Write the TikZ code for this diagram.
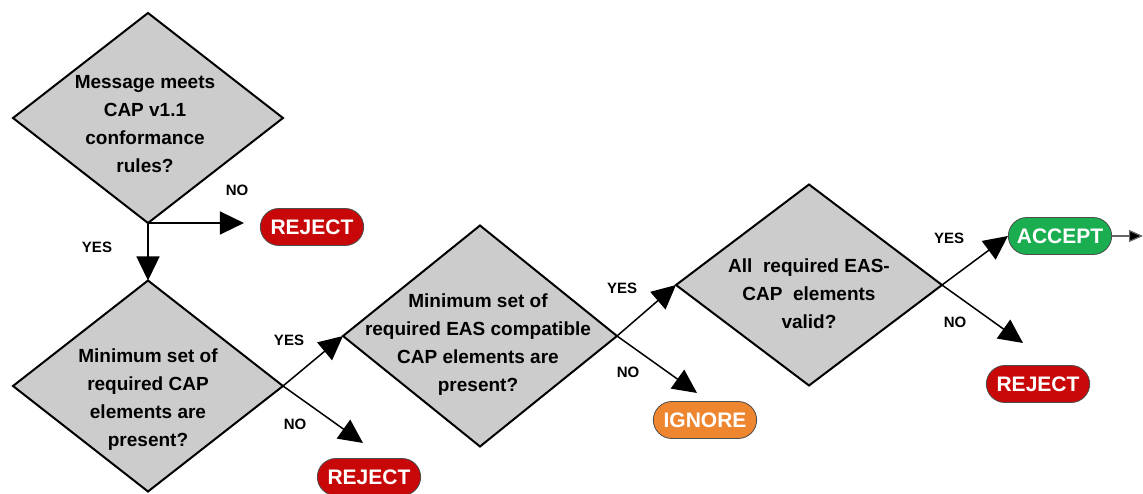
\documentclass[tikz,border=0pt]{standalone}
\usepackage{fontspec}
\setmainfont{Liberation Sans}
\usetikzlibrary{shapes.geometric,shapes.misc,arrows.meta,positioning}

\definecolor{boxgray}{RGB}{204,204,204}
\definecolor{rejred}{RGB}{200,8,8}
\definecolor{ignorange}{RGB}{238,134,48}
\definecolor{accgreen}{RGB}{26,174,80}

\begin{document}
\begin{tikzpicture}[x=1pt, y=-1pt,
  decision/.style={diamond, draw, line width=2pt, fill=boxgray, inner sep=0pt, outer sep=0pt},
  question/.style={align=center, font=\fontsize{19}{28}\selectfont\bfseries},
  result/.style={rounded rectangle, draw=black!70, line width=0.8pt, minimum width=110pt, minimum height=37pt, text=white, font=\fontsize{21}{24}\selectfont\bfseries},
  tag/.style={font=\fontsize{15}{16}\selectfont\bfseries},
  line/.style={-{Triangle[length=24pt,width=23pt]}, line width=1.5pt}
]
\useasboundingbox (0,0) rectangle (1143,494);

% Decisions
\node[decision, minimum width=270pt, minimum height=210pt] (conf) at (148,118) {};
\node[decision, minimum width=270pt, minimum height=211pt] (capmin) at (148,386) {};
\node[decision, minimum width=274pt, minimum height=221pt] (easmin) at (480,336) {};
\node[decision, minimum width=266pt, minimum height=201pt] (valid) at (809,285) {};

\node[question] (confq) at (145,124) {Message meets\\CAP v1.1\\conformance\\rules?};
\node[question] (capminq) at (148,400) {Minimum set of\\required CAP\\elements are\\present?};
\node[question] (easminq) at (478,345) {Minimum set of\\required EAS compatible\\CAP elements are\\present?};
\node[question] (validq) at (809,294) {All\ \ required EAS-\\CAP\ \ elements\\valid?};

% Results
\node[result, fill=rejred] (rej1) at (312,227) {REJECT};
\node[result, fill=rejred] (rej2) at (369,477) {REJECT};
\node[result, fill=ignorange] (ign) at (705,420) {IGNORE};
\node[result, fill=accgreen] (acc) at (1060,236) {ACCEPT};
\node[result, fill=rejred] (rej3) at (1038,384) {REJECT};

% Free ends
\coordinate (capminno) at (363,443);
\coordinate (easminno) at (697,393);
\coordinate (validno) at (1023,343);
\coordinate (out) at (1143,236);

% Arrows
\draw[line, shorten >=16pt] (conf.south) -- (conf.south -| rej1.west);
\draw[line] (conf.south) -- (capmin.north);
\draw[line] (capmin.east) -- (easmin.west);
\draw[line] (capmin.east) -- (capminno);
\draw[line] (easmin.east) -- (valid.west);
\draw[line] (easmin.east) -- (easminno);
\draw[line] (valid.east) -- (acc.west);
\draw[line] (valid.east) -- (validno);
\draw[draw=black!60, line width=1.2pt, -{Triangle[length=14pt,width=12pt,fill=black]}] (acc.east) -- (out);

% Labels
\node[tag] (confno) at (237,190) {NO};
\node[tag] (confyes) at (97,247) {YES};
\node[tag] (capminyes) at (289,340) {YES};
\node[tag] (capminnol) at (295,424) {NO};
\node[tag] (easminyes) at (622,288) {YES};
\node[tag] (easminnol) at (628,372) {NO};
\node[tag] (validyes) at (949,238) {YES};
\node[tag] (validnol) at (955,322) {NO};
\end{tikzpicture}
\end{document}
